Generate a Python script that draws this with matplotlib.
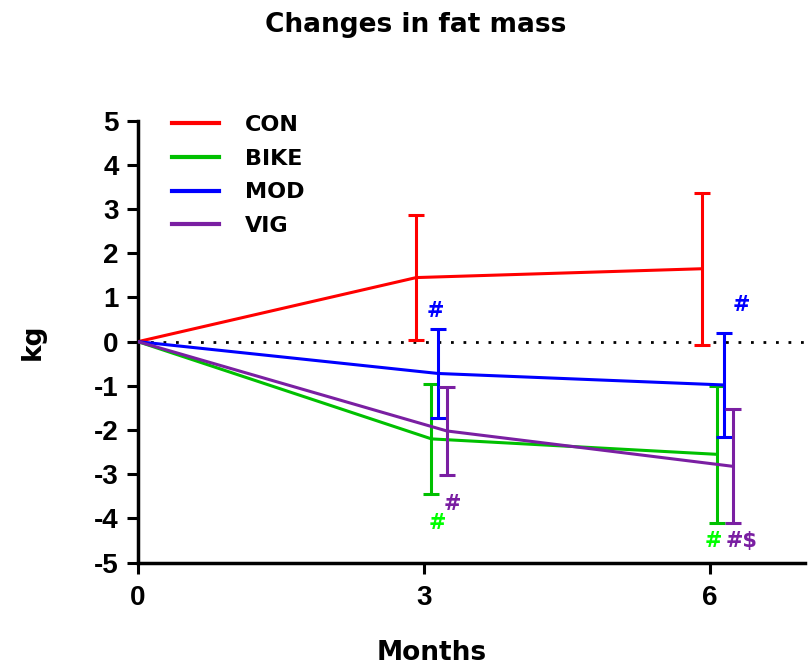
import numpy as np
import matplotlib
matplotlib.use("Agg")
import matplotlib.pyplot as plt

plt.rcParams['font.family'] = ['DejaVu Sans']
plt.rcParams['font.weight'] = 'bold'
plt.rcParams['axes.unicode_minus'] = False

# data
months = np.array([0, 3, 6])
groups = ['CON', 'BIKE', 'MOD', 'VIG']
con_mean = [0, 1.45, 1.65]
con_err = [0, 1.42, 1.72]
bike_mean = [0, -2.2, -2.55]
bike_err = [0, 1.25, 1.55]
mod_mean = [0, -0.72, -0.98]
mod_err = [0, 1.0, 1.18]
vig_mean = [0, -2.02, -2.82]
vig_err = [0, 1.0, 1.29]

# significance marks: (label, x, y, group)
marks = [('#', 3.12, 0.70, 'MOD'), ('#', 6.33, 0.84, 'MOD'),
         ('#', 3.14, -4.1, 'BIKE'), ('#', 3.30, -3.67, 'VIG'),
         ('#', 6.04, -4.5, 'BIKE'), ('#$', 6.33, -4.5, 'VIG')]

means = {'CON': con_mean, 'BIKE': bike_mean, 'MOD': mod_mean, 'VIG': vig_mean}
errs = {'CON': con_err, 'BIKE': bike_err, 'MOD': mod_err, 'VIG': vig_err}
colors = {'CON': '#ff0000', 'BIKE': '#00c000', 'MOD': '#0000ff', 'VIG': '#7a1fa2'}
mark_colors = {'CON': '#ff0000', 'BIKE': '#00ff00', 'MOD': '#0000ff', 'VIG': '#7a1fa2'}
dodge = {'CON': -0.08, 'BIKE': 0.08, 'MOD': 0.15, 'VIG': 0.24}

fig = plt.figure(figsize=(8.09, 6.69), dpi=100)
ax = fig.add_axes([0.1706, 0.159, 0.8244, 0.6606])

ax.plot([0, 7], [0, 0], color='black', lw=2, linestyle=(0, (1, 3.5)), zorder=1)

for g in groups:
    x = months + dodge[g] * (months > 0)
    ax.plot(x, means[g], color=colors[g], lw=2.2, label=g, zorder=3)
    ax.errorbar(x[1:], means[g][1:], yerr=errs[g][1:], fmt='none',
                ecolor=colors[g], elinewidth=2.2, capsize=6, capthick=2.2, zorder=3)

for text, mx, my, g in marks:
    ax.text(mx, my, text, color=mark_colors[g], fontsize=15,
            fontweight='bold', ha='center', va='center')

ax.set_xlim(0, 7)
ax.set_ylim(-5, 5)
ax.set_xticks([0, 3, 6])
ax.set_yticks(range(-5, 6))
ax.tick_params(width=2.2, length=8)
ax.tick_params(axis='x', pad=8)
ax.tick_params(axis='y', pad=6)
for lab in ax.get_xticklabels() + ax.get_yticklabels():
    lab.set_fontfamily('Liberation Sans')
    lab.set_fontweight('bold')
    lab.set_fontsize(20)
for s in ['top', 'right']:
    ax.spines[s].set_visible(False)
for s in ['left', 'bottom']:
    ax.spines[s].set_linewidth(2.5)

ax.set_xlabel('Months', fontsize=19, fontweight='bold')
ax.xaxis.set_label_coords(0.44, -0.175)
ax.set_ylabel('kg', fontsize=19, fontweight='bold')
ax.yaxis.set_label_coords(-0.138, 0.5)
fig.text(0.514, 0.963, 'Changes in fat mass', fontsize=19, fontweight='bold',
         ha='center', va='center')

leg = ax.legend(loc='upper left', bbox_to_anchor=(163 / 809, 1 - 106 / 669),
                bbox_transform=fig.transFigure, borderaxespad=0, frameon=False,
                fontsize=16, handlelength=2.1, handletextpad=1.2, labelspacing=0.62)
for t in leg.get_texts():
    t.set_fontweight('bold')
for h in leg.get_lines():
    h.set_linewidth(3)

fig.savefig('out.png', dpi=100)
